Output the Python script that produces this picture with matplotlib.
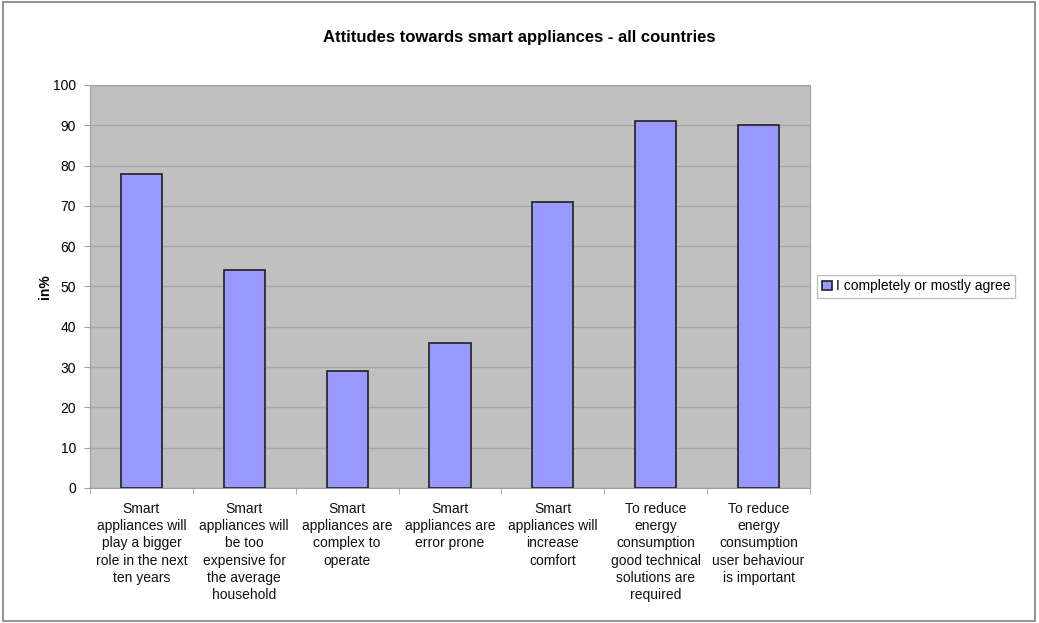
import matplotlib.pyplot as plt
from matplotlib.patches import Rectangle
import numpy as np

categories = [
    "Smart\nappliances will\nplay a bigger\nrole in the next\nten years",
    "Smart\nappliances will\nbe too\nexpensive for\nthe average\nhousehold",
    "Smart\nappliances are\ncomplex to\noperate",
    "Smart\nappliances are\nerror prone",
    "Smart\nappliances will\nincrease\ncomfort",
    "To reduce\nenergy\nconsumption\ngood technical\nsolutions are\nrequired",
    "To reduce\nenergy\nconsumption\nuser behaviour\nis important",
]
agree = [78, 54, 29, 36, 71, 91, 90]

plt.rcParams['font.family'] = ['Liberation Sans', 'DejaVu Sans']

fig = plt.figure(figsize=(10.39, 6.23), dpi=100)
fig.patches.append(Rectangle((0.003, 0.004), 0.993, 0.992, transform=fig.transFigure,
                             fill=False, edgecolor='#808080', lw=1.2))

ax = fig.add_axes([0.0866, 0.2167, 0.693, 0.647])
ax.set_facecolor('#c0c0c0')

x = np.arange(len(agree))
ax.bar(x, agree, width=0.4, color='#9999ff', edgecolor='#202020', lw=1.2,
       label='I completely or mostly agree', zorder=3)

ax.set_xlim(-0.5, len(agree) - 0.5)
ax.set_ylim(0, 100)
ax.set_yticks(range(0, 101, 10))
ax.yaxis.grid(True, color='#a6a6a6', lw=1, zorder=0)
ax.set_axisbelow(True)

# category labels centred, ticks at the boundaries
ax.set_xticks(x)
ax.set_xticklabels(categories, fontsize=10, linespacing=1.3, color='#111111')
ax.tick_params(axis='x', length=0, pad=10)
ax.set_xticks(np.arange(-0.5, len(agree)), minor=True)
ax.tick_params(axis='x', which='minor', length=4, color='#a0a0a0')
ax.tick_params(axis='y', length=4, color='#a0a0a0', labelsize=10, pad=6)

for s in ['top', 'right', 'left', 'bottom']:
    ax.spines[s].set_color('#a0a0a0')

ax.set_ylabel('in%', fontsize=10, fontweight='bold', labelpad=1)
fig.text(0.5, 0.94, 'Attitudes towards smart appliances - all countries',
         ha='center', va='center', fontsize=12, fontweight='bold')

leg = ax.legend(loc='center left', bbox_to_anchor=(1.01, 0.5), fontsize=10,
                frameon=True, fancybox=False, edgecolor='#b0b0b0',
                handlelength=0.7, handleheight=0.7, handletextpad=0.3,
                borderpad=0.35, borderaxespad=0)
leg.get_frame().set_linewidth(1)

fig.savefig('out.png', dpi=100)
